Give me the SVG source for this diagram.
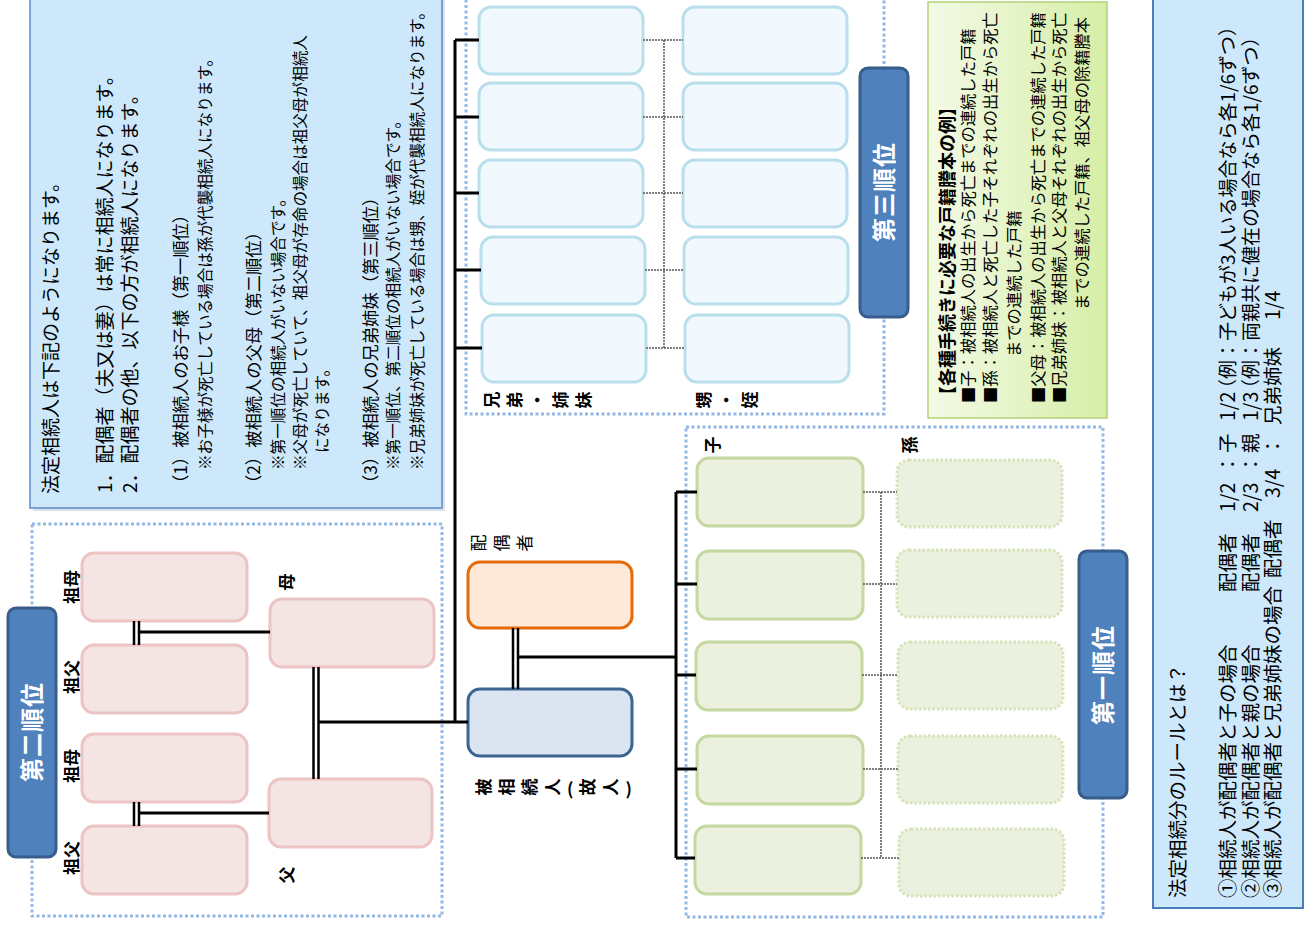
<svg xmlns="http://www.w3.org/2000/svg" width="1307" height="927" viewBox="0 0 1307 927">
<defs>
<style>
text{font-family:'Noto Sans CJK JP','Noto Sans',sans-serif;fill:#000}
.info{fill:#cde8fb;stroke:#5a8ac6;stroke-width:1.5}
.sec{fill:none;stroke:#95b9e6;stroke-width:3;stroke-dasharray:3 2.5}
.rank{fill:#4f81bd;stroke:#385d8a;stroke-width:3}
.rankt{fill:#fff;font-size:24px;font-weight:bold;text-anchor:middle;letter-spacing:1px}
.gp{fill:#f4e5e4;stroke:#ebc4c3;stroke-width:3}
.sib{fill:#f1f8fe;stroke:#b8dfeb;stroke-width:3}
.ch{fill:#ebf1de;stroke:#c5d89f;stroke-width:3}
.gc{fill:#ebf1de;stroke:#d5e4b8;stroke-width:3;stroke-dasharray:2.5 2}
.lbl{font-size:17px;font-weight:bold;text-anchor:middle}
.vt{font-size:17px;font-weight:bold;writing-mode:vertical-rl;letter-spacing:6px}
.t18{font-size:19px}
.t17{font-size:17.3px}
.t15{font-size:15.6px}
.n16{font-size:16.3px}
.r19{font-size:19.5px}
.blk{fill:none;stroke:#000;stroke-width:3}
.dbl{fill:none;stroke:#000;stroke-width:2.5}
.dsh{fill:none;stroke:#555;stroke-width:1.5;stroke-dasharray:2 1}
</style>
<linearGradient id="gNote" x1="0" y1="0" x2="1" y2="0">
<stop offset="0" stop-color="#f3fae6"/>
<stop offset="1" stop-color="#d6eea6"/>
</linearGradient>
</defs>
<rect width="1307" height="927" fill="#fff"/>

<g id="info-heirs">
<rect x="33" y="-2" width="412" height="513" fill="#dbe3ea"/>
<rect class="info" x="30" y="-5" width="412" height="513"/>
<g transform="rotate(-90)">
<text class="t18" x="-494" y="58">法定相続人は下記のようになります。</text>
<text class="t18" x="-493" y="112">1．配偶者（夫又は妻）は常に相続人になります。</text>
<text class="t18" x="-493" y="137">2．配偶者の他、以下の方が相続人になります。</text>
<text class="t17" x="-492" y="187">（1）被相続人のお子様（第一順位）</text>
<text class="t15" x="-470" y="211">※お子様が死亡している場合は孫が代襲相続人になります。</text>
<text class="t17" x="-492" y="260">（2）被相続人の父母（第二順位）</text>
<text class="t15" x="-470" y="284">※第一順位の相続人がいない場合です。</text>
<text class="t15" x="-470" y="306">※父母が死亡していて、祖父母が存命の場合は祖父母が相続人</text>
<text class="t15" x="-453" y="328">になります。</text>
<text class="t17" x="-492" y="377">（3）被相続人の兄弟姉妹（第三順位）</text>
<text class="t15" x="-470" y="399">※第一順位、第二順位の相続人がいない場合です。</text>
<text class="t15" x="-470" y="423">※兄弟姉妹が死亡している場合は甥、姪が代襲相続人になります。</text>
</g>
</g>

<g id="section-rank2">
<rect class="sec" x="32" y="524" width="410" height="392"/>
</g>
<g id="label-rank2">
<rect class="rank" x="8" y="608" width="48" height="249" rx="8"/>
<text class="rankt" transform="rotate(-90)" x="-732" y="41">第二順位</text>
</g>
<g id="grandmother-m">
<rect class="gp" x="82" y="553" width="165" height="68" rx="12"/>
<text class="lbl" transform="rotate(-90)" x="-587" y="78">祖母</text>
</g>
<g id="grandfather-m">
<rect class="gp" x="82" y="645" width="165" height="68" rx="12"/>
<text class="lbl" transform="rotate(-90)" x="-677" y="78">祖父</text>
</g>
<g id="grandmother-f">
<rect class="gp" x="82" y="734" width="165" height="68" rx="12"/>
<text class="lbl" transform="rotate(-90)" x="-766" y="78">祖母</text>
</g>
<g id="grandfather-f">
<rect class="gp" x="82" y="826" width="165" height="68" rx="12"/>
<text class="lbl" transform="rotate(-90)" x="-858" y="78">祖父</text>
</g>
<g id="mother">
<rect class="gp" x="270" y="599" width="164" height="68" rx="12"/>
<text class="lbl" transform="rotate(-90)" x="-582" y="293">母</text>
</g>
<g id="father">
<rect class="gp" x="269" y="779" width="163" height="68" rx="12"/>
<text class="lbl" transform="rotate(-90)" x="-875" y="293">父</text>
</g>

<g id="section-rank3">
<rect class="sec" x="466" y="-5" width="418" height="419"/>
<text class="vt" transform="rotate(-90)" x="-400" y="483">兄弟・姉妹</text>
<text class="vt" transform="rotate(-90)" x="-400" y="695">甥・姪</text>
</g>
<g id="label-rank3">
<rect class="rank" x="860" y="68" width="48" height="249" rx="8"/>
<text class="rankt" transform="rotate(-90)" x="-192" y="893">第三順位</text>
</g>
<g id="sibling-1"><rect class="sib" x="479" y="7" width="164" height="67" rx="12"/></g>
<g id="sibling-2"><rect class="sib" x="479" y="83" width="164" height="67" rx="12"/></g>
<g id="sibling-3"><rect class="sib" x="479" y="160" width="164" height="67" rx="12"/></g>
<g id="sibling-4"><rect class="sib" x="481" y="237" width="164" height="67" rx="12"/></g>
<g id="sibling-5"><rect class="sib" x="482" y="315" width="164" height="67" rx="12"/></g>
<g id="nephew-1"><rect class="sib" x="683" y="7" width="164" height="67" rx="12"/></g>
<g id="nephew-2"><rect class="sib" x="683" y="83" width="164" height="67" rx="12"/></g>
<g id="nephew-3"><rect class="sib" x="683" y="160" width="164" height="67" rx="12"/></g>
<g id="nephew-4"><rect class="sib" x="684" y="237" width="164" height="67" rx="12"/></g>
<g id="nephew-5"><rect class="sib" x="685" y="315" width="164" height="67" rx="12"/></g>

<g id="note-documents">
<rect x="928" y="2" width="179" height="416" fill="url(#gNote)" stroke="#b3d27a" stroke-width="1.5"/>
<g transform="rotate(-90)">
<text x="-404" y="954" style="font-size:18px;font-weight:bold">【各種手続きに必要な戸籍謄本の例】</text>
<text class="n16" x="-403" y="974">■子：被相続人の出生から死亡までの連続した戸籍</text>
<text class="n16" x="-403" y="996">■孫：被相続人と死亡した子それぞれの出生から死亡</text>
<text class="n16" x="-357" y="1020">までの連続した戸籍</text>
<text class="n16" x="-403" y="1044">■父母：被相続人の出生から死亡までの連続した戸籍</text>
<text class="n16" x="-403" y="1065">■兄弟姉妹：被相続人と父母それぞれの出生から死亡</text>
<text class="n16" x="-310" y="1088">までの連続した戸籍、祖父母の除籍謄本</text>
</g>
</g>

<g id="section-rank1">
<rect class="sec" x="686" y="427" width="417" height="490"/>
<text class="lbl" transform="rotate(-90)" x="-445" y="719">子</text>
<text class="lbl" transform="rotate(-90)" x="-445" y="916">孫</text>
</g>
<g id="label-rank1">
<rect class="rank" x="1079" y="551" width="48" height="247" rx="8"/>
<text class="rankt" transform="rotate(-90)" x="-675" y="1112">第一順位</text>
</g>
<g id="child-1"><rect class="ch" x="697" y="458" width="166" height="68" rx="12"/></g>
<g id="child-2"><rect class="ch" x="697" y="551" width="166" height="68" rx="12"/></g>
<g id="child-3"><rect class="ch" x="696" y="642" width="166" height="68" rx="12"/></g>
<g id="child-4"><rect class="ch" x="697" y="736" width="166" height="68" rx="12"/></g>
<g id="child-5"><rect class="ch" x="695" y="826" width="166" height="68" rx="12"/></g>
<g id="grandchild-1"><rect class="gc" x="897" y="460" width="165" height="67" rx="12"/></g>
<g id="grandchild-2"><rect class="gc" x="897" y="550" width="165" height="67" rx="12"/></g>
<g id="grandchild-3"><rect class="gc" x="898" y="642" width="165" height="67" rx="12"/></g>
<g id="grandchild-4"><rect class="gc" x="898" y="736" width="165" height="67" rx="12"/></g>
<g id="grandchild-5"><rect class="gc" x="899" y="829" width="165" height="67" rx="12"/></g>

<g id="spouse">
<rect x="468" y="562" width="164" height="66" rx="12" fill="#fde9d9" stroke="#e46c0a" stroke-width="3"/>
<text class="vt" transform="rotate(-90)" x="-543" y="470" style="font-weight:normal">配偶者</text>
</g>
<g id="deceased">
<rect x="468" y="689" width="164" height="67" rx="12" fill="#dbe5f1" stroke="#3d6592" stroke-width="3"/>
<text class="vt" transform="rotate(-90)" x="-787" y="475">被相続人(故人)</text>
</g>

<g id="connectors">
<path class="blk" d="M455,40V722M455,40H479M455,117H479M455,193H479M455,270H481M455,348H482M318,722H468"/>
<path class="dbl" d="M313.5,667V779M318.5,667V779M134,621V645M139,621V645M134,802V826M139,802V826M513,628V689M518,628V689"/>
<path class="blk" d="M139,632H270M139,813H269M518,657H676M676,492V858M676,492H697M676,584H697M676,675H696M676,769H697M676,858H695"/>
<path class="dsh" d="M643,40H683M643,117H683M643,193H683M645,270H684M646,348H685M664,40V348"/>
<path class="dsh" d="M863,492H897M863,584H897M862,675H898M863,769H898M861,858H899M881,492V858"/>
</g>

<g id="info-shares">
<rect x="1153" y="-5" width="150" height="913" fill="#cde8fb" stroke="#4a7ebb" stroke-width="2"/>
<g transform="rotate(-90)">
<text class="r19" x="-898" y="1185">法定相続分のルールとは？</text>
<text class="r19" y="1235"><tspan x="-898">①相続人が配偶者と子の場合</tspan><tspan x="-592">配偶者</tspan><tspan x="-512">1/2</tspan><tspan x="-474">：</tspan><tspan x="-453">子</tspan><tspan x="-421">1/2</tspan><tspan x="-398" style="font-size:19px">（例：子どもが3人いる場合なら各1/6ずつ）</tspan></text>
<text class="r19" y="1258"><tspan x="-898">②相続人が配偶者と親の場合</tspan><tspan x="-592">配偶者</tspan><tspan x="-512">2/3</tspan><tspan x="-474">：</tspan><tspan x="-453">親</tspan><tspan x="-421">1/3</tspan><tspan x="-398" style="font-size:19px">（例：両親共に健在の場合なら各1/6ずつ）</tspan></text>
<text class="r19" y="1280"><tspan x="-898">③相続人が配偶者と兄弟姉妹の場合</tspan><tspan x="-578">配偶者</tspan><tspan x="-498">3/4</tspan><tspan x="-456">：</tspan><tspan x="-425">兄弟姉妹</tspan><tspan x="-320">1/4</tspan></text>
</g>
</g>
</svg>
